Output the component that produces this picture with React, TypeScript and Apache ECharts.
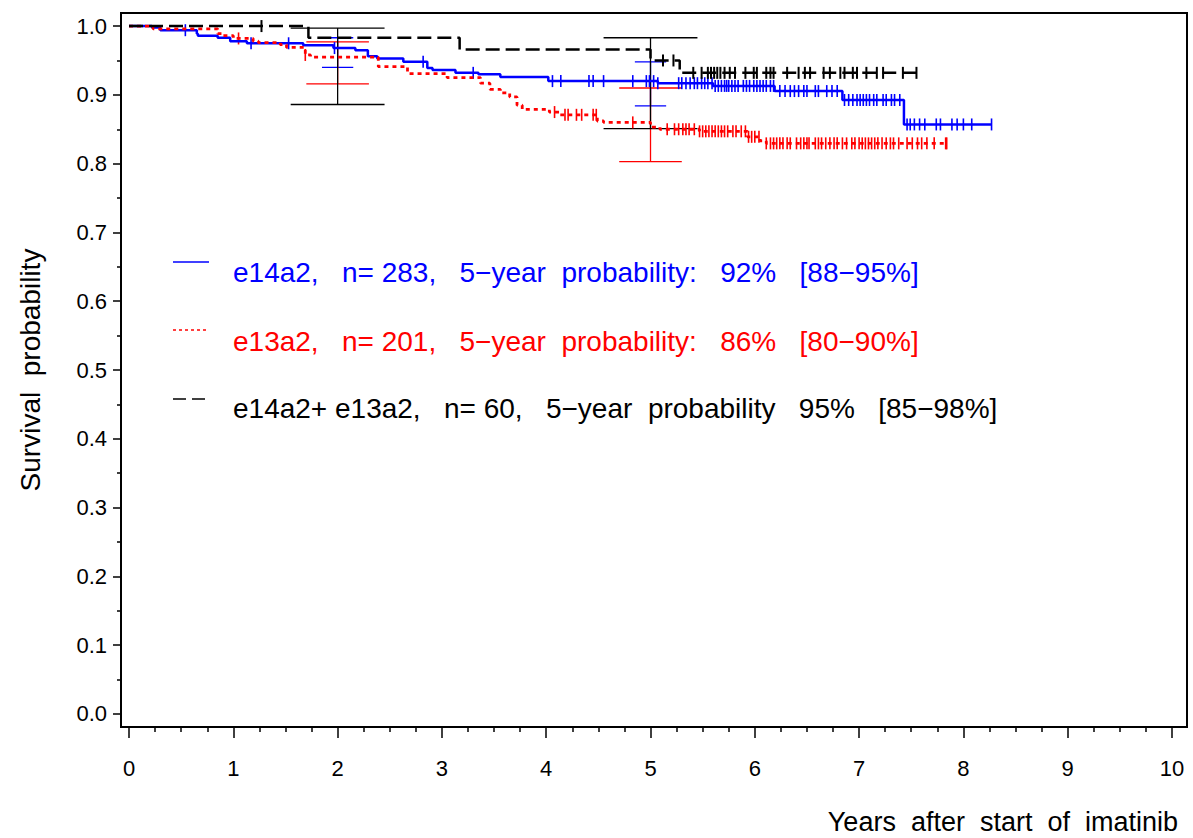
import React, { useEffect, useRef } from "react";
import * as echarts from "echarts";

// ---------- data ----------
const blueTimes = [0, 0.22, 0.30, 0.65, 0.66, 0.85, 0.97, 1.13, 1.67, 1.96, 2.17, 2.29, 2.38, 2.63, 2.86, 2.91, 3.13, 3.35, 3.56, 4.02, 5.07, 5.60, 6.19, 6.84, 7.43, 8.27];
const blueSurv = [1.0, 0.998, 0.994, 0.989, 0.986, 0.983, 0.978, 0.975, 0.972, 0.968, 0.965, 0.956, 0.953, 0.948, 0.939, 0.936, 0.932, 0.930, 0.926, 0.920, 0.917, 0.913, 0.9055, 0.8925, 0.857, 0.857];
const blueCensor = [0.54, 1.17, 1.53, 1.97, 2.82, 3.30, 4.06, 4.14, 4.41, 4.45, 4.55, 4.83, 4.96, 4.99, 5.03, 5.07, 5.27, 5.30, 5.34, 5.38, 5.42, 5.45, 5.49, 5.52, 5.55, 5.59, 5.62, 5.65, 5.68, 5.71, 5.73, 5.75, 5.78, 5.81, 5.84, 5.89, 5.92, 5.95, 5.99, 6.02, 6.05, 6.08, 6.11, 6.15, 6.18, 6.24, 6.29, 6.34, 6.38, 6.42, 6.47, 6.50, 6.58, 6.61, 6.69, 6.74, 6.79, 6.86, 6.90, 6.94, 6.98, 7.01, 7.04, 7.07, 7.10, 7.14, 7.17, 7.23, 7.26, 7.31, 7.34, 7.39, 7.46, 7.49, 7.53, 7.58, 7.63, 7.74, 7.78, 7.89, 7.94, 8.00, 8.08, 8.27];

const redTimes = [0, 0.23, 0.85, 0.90, 1.00, 1.19, 1.24, 1.45, 1.51, 1.69, 1.74, 2.39, 2.67, 3.05, 3.37, 3.46, 3.56, 3.65, 3.72, 3.77, 4.03, 4.13, 4.49, 4.55, 5.00, 5.09, 5.47, 5.93, 6.05, 6.11, 7.84];
const redSurv = [1.0, 0.996, 0.989, 0.986, 0.982, 0.978, 0.976, 0.973, 0.969, 0.958, 0.955, 0.941, 0.931, 0.925, 0.917, 0.908, 0.903, 0.897, 0.885, 0.879, 0.875, 0.871, 0.862, 0.860, 0.853, 0.850, 0.847, 0.839, 0.833, 0.8295, 0.8295];
const redCensor = [1.05, 1.69, 4.08, 4.18, 4.21, 4.29, 4.34, 4.45, 4.48, 4.83, 5.16, 5.23, 5.27, 5.31, 5.34, 5.37, 5.42, 5.47, 5.50, 5.53, 5.56, 5.59, 5.62, 5.65, 5.68, 5.71, 5.74, 5.79, 5.82, 5.87, 5.91, 5.94, 5.97, 6.00, 6.04, 6.11, 6.15, 6.18, 6.21, 6.24, 6.27, 6.31, 6.34, 6.40, 6.44, 6.47, 6.50, 6.52, 6.58, 6.61, 6.64, 6.68, 6.72, 6.76, 6.79, 6.84, 6.88, 6.93, 6.96, 7.00, 7.03, 7.06, 7.09, 7.12, 7.15, 7.18, 7.22, 7.26, 7.30, 7.33, 7.38, 7.46, 7.51, 7.56, 7.60, 7.65, 7.72, 7.83, 7.84];

const blackTimes = [0, 1.72, 3.17, 5.00, 5.28, 7.55];
const blackSurv = [1.0, 0.983, 0.966, 0.950, 0.932, 0.932];
const blackCensor = [1.27, 5.12, 5.22, 5.41, 5.49, 5.55, 5.58, 5.61, 5.64, 5.67, 5.71, 5.76, 5.81, 5.91, 5.99, 6.02, 6.11, 6.15, 6.18, 6.31, 6.42, 6.48, 6.53, 6.66, 6.72, 6.82, 6.86, 6.94, 6.98, 7.07, 7.17, 7.23, 7.42, 7.55];

// confidence intervals at 2 and 5 years
const ciTimes = [2, 5];
const blueCiLow = [0.940, 0.884];
const blueCiHigh = [0.983, 0.948];
const redCiLow = [0.916, 0.803];
const redCiHigh = [0.977, 0.910];
const blackCiLow = [0.886, 0.851];
const blackCiHigh = [0.997, 0.983];

const xMajorTicks = [0, 1, 2, 3, 4, 5, 6, 7, 8, 9, 10];
const xMinorTicks = [0.25, 0.5, 0.75, 1.25, 1.5, 1.75, 2.25, 2.5, 2.75, 3.25, 3.5, 3.75, 4.25, 4.5, 4.75, 5.25, 5.5, 5.75, 6.25, 6.5, 6.75, 7.25, 7.5, 7.75, 8.25, 8.5, 8.75, 9.25, 9.5, 9.75];
const yMajorTicks = [0, 0.1, 0.2, 0.3, 0.4, 0.5, 0.6, 0.7, 0.8, 0.9, 1.0];
const yMinorTicks = [0.05, 0.15, 0.25, 0.35, 0.45, 0.55, 0.65, 0.75, 0.85, 0.95];

const legendLabels = [
  "e14a2,   n= 283,   5\u2212year  probability:   92%   [88\u221295%]",
  "e13a2,   n= 201,   5\u2212year  probability:   86%   [80\u221290%]",
  "e14a2+ e13a2,   n= 60,   5\u2212year  probability   95%   [85\u221298%]",
];
const xTitle = "Years  after  start  of  imatinib";
const yTitle = "Survival  probability";

// ---------- helpers ----------
const FONT = "'Liberation Sans', Arial, Helvetica, sans-serif";
const BLUE = "#0000ff";
const RED = "#ff0000";
const BLACK = "#000000";

function levelAt(times: number[], surv: number[], t: number) {
  let s = surv[0];
  for (let i = 0; i < times.length; i++) if (times[i] <= t) s = surv[i];
  return s;
}

function curveSeries(times: number[], surv: number[], color: string, type: any, width: number) {
  return {
    type: "line",
    step: "end",
    symbol: "none",
    data: times.map((t, i) => [t, surv[i]]),
    lineStyle: { color, width, type },
    silent: true,
  };
}

function censorSeries(times: number[], surv: number[], censor: number[], color: string, w: number) {
  return {
    type: "scatter",
    symbol: "rect",
    symbolSize: [w, 12],
    data: censor.map((t) => [t, levelAt(times, surv, t)]),
    itemStyle: { color, opacity: 1 },
    silent: true,
  };
}

function ciSeries(low: number[], high: number[], color: string, halfWidth: number) {
  return {
    type: "custom",
    silent: true,
    data: ciTimes.map((t, i) => [t, low[i], high[i]]),
    encode: { x: 0, y: [1, 2] },
    renderItem: (_params: any, api: any) => {
      const x = api.value(0);
      const lo = api.value(1);
      const hi = api.value(2);
      const pLo = api.coord([x, lo]);
      const pHi = api.coord([x, hi]);
      const pL = api.coord([x - halfWidth, lo]);
      const pR = api.coord([x + halfWidth, lo]);
      const style = { stroke: color, lineWidth: 1.3 };
      return {
        type: "group",
        children: [
          { type: "line", shape: { x1: pLo[0], y1: pLo[1], x2: pHi[0], y2: pHi[1] }, style },
          { type: "line", shape: { x1: pL[0], y1: pLo[1], x2: pR[0], y2: pLo[1] }, style },
          { type: "line", shape: { x1: pL[0], y1: pHi[1], x2: pR[0], y2: pHi[1] }, style },
        ],
      };
    },
  };
}

const X_MIN = -0.077;
const X_MAX = 10.144;
const Y_MIN = -0.0189;
const Y_MAX = 1.019;

export default function App() {
  const ref = useRef<HTMLDivElement>(null);
  useEffect(() => {
    if (!ref.current) return;
    const chart = echarts.init(ref.current, null, { renderer: "svg" });
    const option: any = {
      animation: false,
      backgroundColor: "#ffffff",
      grid: {
        left: 121,
        top: 13,
        right: 6,
        bottom: 111,
        show: true,
        borderColor: BLACK,
        borderWidth: 2,
        backgroundColor: "transparent",
      },
      xAxis: [
        {
          type: "value",
          min: X_MIN,
          max: X_MAX,
          axisLine: { show: true, onZero: false, lineStyle: { color: BLACK, width: 2 } },
          axisTick: { show: true, customValues: xMajorTicks, length: 11, lineStyle: { color: BLACK, width: 1.5 } },
          axisLabel: { customValues: xMajorTicks, fontSize: 22, color: BLACK, fontFamily: FONT, margin: 30 },
          splitLine: { show: false },
        },
        {
          type: "value",
          min: X_MIN,
          max: X_MAX,
          position: "bottom",
          axisLine: { show: false, onZero: false },
          axisTick: { show: true, customValues: xMinorTicks, length: 5, lineStyle: { color: BLACK, width: 1.5 } },
          axisLabel: { show: false },
          splitLine: { show: false },
        },
      ],
      yAxis: [
        {
          type: "value",
          min: Y_MIN,
          max: Y_MAX,
          axisLine: { show: true, onZero: false, lineStyle: { color: BLACK, width: 2 } },
          axisTick: { show: true, customValues: yMajorTicks, length: 8, lineStyle: { color: BLACK, width: 1.5 } },
          axisLabel: {
            customValues: yMajorTicks,
            fontSize: 22,
            color: BLACK,
            fontFamily: FONT,
            margin: 14,
            formatter: (v: number) => v.toFixed(1),
          },
          splitLine: { show: false },
        },
        {
          type: "value",
          min: Y_MIN,
          max: Y_MAX,
          position: "left",
          axisLine: { show: false, onZero: false },
          axisTick: { show: true, customValues: yMinorTicks, length: 4, lineStyle: { color: BLACK, width: 1.5 } },
          axisLabel: { show: false },
          splitLine: { show: false },
        },
      ],
      series: [
        curveSeries(blueTimes, blueSurv, BLUE, "solid", 2.5),
        curveSeries(redTimes, redSurv, RED, [4, 4], 2.8),
        curveSeries(blackTimes, blackSurv, BLACK, [14, 6], 2.5),
        censorSeries(blueTimes, blueSurv, blueCensor, BLUE, 1.6),
        censorSeries(redTimes, redSurv, redCensor, RED, 1.6),
        censorSeries(blackTimes, blackSurv, blackCensor, BLACK, 2),
        ciSeries(blueCiLow, blueCiHigh, BLUE, 0.15),
        ciSeries(redCiLow, redCiHigh, RED, 0.3),
        ciSeries(blackCiLow, blackCiHigh, BLACK, 0.45),
      ],
      graphic: [
        // legend samples
        { type: "line", shape: { x1: 173, y1: 262, x2: 209, y2: 262 }, style: { stroke: BLUE, lineWidth: 1.5 } },
        { type: "line", shape: { x1: 173, y1: 330, x2: 209, y2: 330 }, style: { stroke: RED, lineWidth: 1.5, lineDash: [3, 3] } },
        { type: "line", shape: { x1: 173, y1: 399, x2: 209, y2: 399 }, style: { stroke: BLACK, lineWidth: 1.5, lineDash: [13, 6] } },
        { type: "text", x: 233, y: 272, style: { text: legendLabels[0], fill: BLUE, font: `28px ${FONT}`, verticalAlign: "middle", align: "left" } },
        { type: "text", x: 233, y: 341, style: { text: legendLabels[1], fill: RED, font: `28px ${FONT}`, verticalAlign: "middle", align: "left" } },
        { type: "text", x: 233, y: 408, style: { text: legendLabels[2], fill: BLACK, font: `28px ${FONT}`, verticalAlign: "middle", align: "left" } },
        // axis titles
        { type: "text", x: 1178, y: 822, style: { text: xTitle, fill: BLACK, font: `27px ${FONT}`, verticalAlign: "middle", align: "right" } },
        { type: "text", x: 30, y: 370, rotation: Math.PI / 2, style: { text: yTitle, fill: BLACK, font: `28px ${FONT}`, verticalAlign: "middle", align: "center" } },
      ],
    };
    chart.setOption(option);
    return () => chart.dispose();
  }, []);
  return <div ref={ref} style={{ position: "absolute", left: 0, top: 0, width: 1193, height: 838 }} />;
}
